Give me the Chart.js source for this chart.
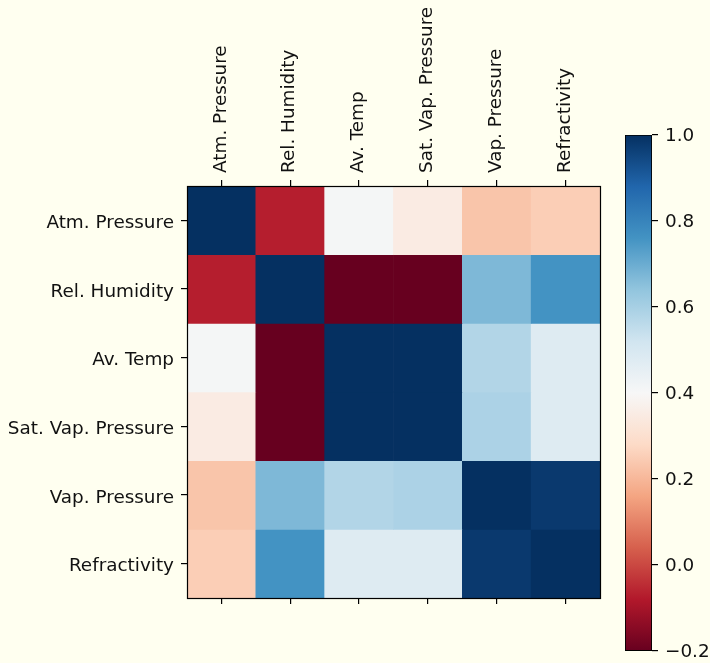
<!DOCTYPE html>
<html>
<head>
<meta charset="utf-8">
<script src="https://cdn.jsdelivr.net/npm/chart.js@4.4.0/dist/chart.umd.min.js"></script>
<style>
  html, body { margin: 0; padding: 0; background: #fffff0; width: 710px; height: 663px; overflow: hidden; }
  #wrap { position: relative; width: 710px; height: 663px; overflow: hidden; }
  #main { position: absolute; left: 0; top: 0; }
  #cbar { position: absolute; left: 600px; top: 115px; }
</style>
</head>
<body>
<div id="wrap">
  <canvas id="main" width="710" height="663"></canvas>
  <canvas id="cbar" width="110" height="554"></canvas>
</div>
<script>
// ---- data ----
const variables = ['Atm. Pressure', 'Rel. Humidity', 'Av. Temp', 'Sat. Vap. Pressure', 'Vap. Pressure', 'Refractivity'];
const atmPressure     = [1.00, -0.07,  0.41,  0.35, 0.23, 0.25];
const relHumidity     = [-0.07, 1.00, -0.20, -0.20, 0.67, 0.76];
const avTemp          = [0.41, -0.20,  1.00,  1.00, 0.58, 0.48];
const satVapPressure  = [0.35, -0.20,  1.00,  1.00, 0.59, 0.48];
const vapPressure     = [0.23,  0.67,  0.58,  0.59, 1.00, 0.98];
const refractivity    = [0.25,  0.76,  0.48,  0.48, 0.98, 1.00];
const matrixRows = [atmPressure, relHumidity, avTemp, satVapPressure, vapPressure, refractivity];
const colorbarTicks = [-0.2, 0.0, 0.2, 0.4, 0.6, 0.8, 1.0];
const VMIN = -0.2, VMAX = 1.0;

// ---- RdBu colormap ----
const RDBU = ['#67001f','#b2182b','#d6604d','#f4a582','#fddbc7','#f7f7f7','#d1e5f0','#92c5de','#4393c3','#2166ac','#053061'];
function hex2rgb(h){ return [parseInt(h.slice(1,3),16), parseInt(h.slice(3,5),16), parseInt(h.slice(5,7),16)]; }
function cmap(v){
  let t = (v - VMIN) / (VMAX - VMIN);
  t = Math.max(0, Math.min(1, t));
  const p = t * (RDBU.length - 1);
  const i = Math.min(Math.floor(p), RDBU.length - 2);
  const f = p - i;
  const a = hex2rgb(RDBU[i]), b = hex2rgb(RDBU[i+1]);
  const c = a.map((x, k) => Math.round(x + (b[k] - x) * f));
  return `rgb(${c[0]},${c[1]},${c[2]})`;
}

const FONT = { family: 'DejaVu Sans', size: 18.4 };
const TXT = '#111111';
Chart.defaults.font.family = 'DejaVu Sans';

// ---- heatmap (stacked bars, one dataset per row) ----
const datasets = matrixRows.map((row, i) => ({
  label: variables[i],
  data: row.map(() => 1),
  backgroundColor: row.map(v => cmap(v)),
  borderWidth: 0,
  barPercentage: 1.0,
  categoryPercentage: 1.0,
  xAxisID: 'x',
  yAxisID: 'y',
  stack: 's'
}));

const framePlugin = {
  id: 'frame',
  afterDatasetsDraw(chart) {
    const { ctx, chartArea: a } = chart;
    ctx.save();
    ctx.strokeStyle = '#000';
    ctx.lineWidth = 1.2;
    ctx.strokeRect(Math.round(a.left) + 0.5, Math.round(a.top) + 0.5, Math.round(a.right - a.left), Math.round(a.bottom - a.top));
    ctx.restore();
  }
};

const tickGrid = { display: true, drawOnChartArea: false, drawTicks: true, tickLength: 6, color: '#000', lineWidth: 1.2, offset: false };

new Chart(document.getElementById('main'), {
  type: 'bar',
  data: { labels: variables, datasets },
  options: {
    responsive: false,
    animation: false,
    layout: { padding: { left: 0, right: 110, top: 0, bottom: 0 } },
    plugins: { legend: { display: false }, tooltip: { enabled: false } },
    scales: {
      x: {
        type: 'category', position: 'top', offset: true,
        grid: tickGrid, border: { display: false },
        ticks: { color: TXT, font: FONT, minRotation: 90, maxRotation: 90, padding: 7, labelOffset: 21.5, autoSkip: false },
        afterFit(s) { s.height = 186; }
      },
      xb: {
        type: 'category', position: 'bottom', offset: true, labels: variables,
        grid: tickGrid, border: { display: false },
        ticks: { display: false },
        afterFit(s) { s.height = 65; }
      },
      y: {
        type: 'linear', stacked: true, min: 0, max: matrixRows.length, reverse: true, display: false
      },
      y2: {
        type: 'category', position: 'left', offset: true, labels: variables,
        grid: tickGrid, border: { display: false },
        ticks: { color: TXT, font: FONT, padding: 7, labelOffset: 3, autoSkip: false },
        afterFit(s) { s.width = 187; }
      }
    }
  },
  plugins: [framePlugin]
});

// ---- colorbar ----
new Chart(document.getElementById('cbar'), {
  type: 'bar',
  data: {
    labels: [''],
    datasets: [{
      data: [[VMIN, VMAX]],
      backgroundColor(ctx) {
        const a = ctx.chart.chartArea;
        if (!a) return RDBU[5];
        const g = ctx.chart.ctx.createLinearGradient(0, a.bottom, 0, a.top);
        RDBU.forEach((c, i) => g.addColorStop(i / (RDBU.length - 1), c));
        return g;
      },
      borderColor: '#000',
      borderWidth: 1.2,
      borderSkipped: false,
      barPercentage: 1.0,
      categoryPercentage: 1.0
    }]
  },
  options: {
    responsive: false,
    animation: false,
    layout: { padding: { left: 25, right: 0, top: 20, bottom: 0 } },
    plugins: { legend: { display: false }, tooltip: { enabled: false } },
    scales: {
      x: { display: false },
      y: {
        position: 'right', min: VMIN, max: VMAX,
        afterBuildTicks(s) { s.ticks = colorbarTicks.map(v => ({ value: v })); },
        grid: { display: true, drawOnChartArea: false, drawTicks: true, tickLength: 6, color: '#000', lineWidth: 1.2 },
        border: { display: false },
        ticks: {
          color: TXT, font: FONT, padding: 7, labelOffset: 1,
          callback(v) { const s = Math.abs(v).toFixed(1); return v < -1e-9 ? '\u2212' + s : s; }
        },
        afterFit(s) { s.width = 58; }
      }
    }
  }
});
</script>
</body>
</html>
